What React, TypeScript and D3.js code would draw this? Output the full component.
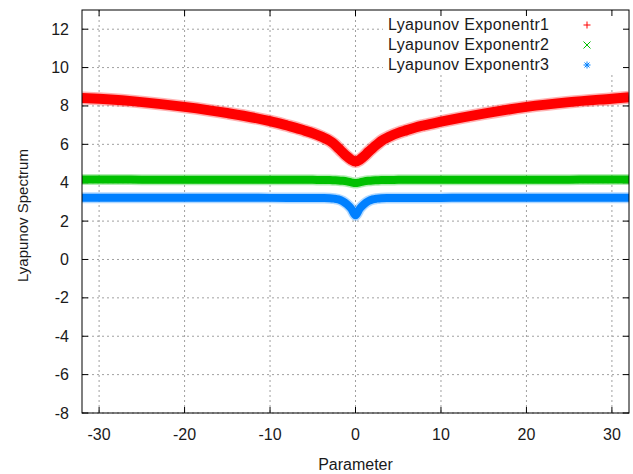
import React from 'react'
import * as d3 from 'd3'

const params = [-32, -30, -25, -20, -15, -10, -8, -7, -6, -5, -4, -3, -2.5, -2, -1.5, -1, -0.5, 0, 0.5, 1, 1.5, 2, 2.5, 3, 4, 5, 6, 7, 8, 10, 15, 20, 25, 30, 32]
const exponent1 = [8.42, 8.37, 8.2, 7.95, 7.63, 7.21, 6.98, 6.86, 6.72, 6.58, 6.4, 6.18, 6.02, 5.8, 5.58, 5.37, 5.2, 5.1, 5.2, 5.38, 5.6, 5.8, 5.99, 6.17, 6.41, 6.6, 6.74, 6.88, 6.99, 7.18, 7.6, 7.95, 8.2, 8.38, 8.45]
const exponent2 = [4.17, 4.17, 4.16, 4.16, 4.16, 4.15, 4.15, 4.15, 4.15, 4.15, 4.14, 4.14, 4.13, 4.12, 4.1, 4.07, 4.02, 3.98, 4.02, 4.07, 4.1, 4.12, 4.13, 4.14, 4.14, 4.15, 4.15, 4.15, 4.15, 4.15, 4.16, 4.16, 4.16, 4.17, 4.17]
const exponent3 = [3.22, 3.22, 3.22, 3.22, 3.22, 3.21, 3.21, 3.21, 3.21, 3.21, 3.2, 3.19, 3.17, 3.13, 3.04, 2.88, 2.65, 2.3, 2.65, 2.88, 3.04, 3.13, 3.17, 3.19, 3.2, 3.21, 3.21, 3.21, 3.21, 3.21, 3.22, 3.22, 3.22, 3.22, 3.22]

const seriesNames = ['Lyapunov Exponentr1', 'Lyapunov Exponentr2', 'Lyapunov Exponentr3']
const seriesColors = ['#ff0000', '#00c000', '#0080ff']
const xTicks = [-30, -20, -10, 0, 10, 20, 30]
const yTicks = [-8, -6, -4, -2, 0, 2, 4, 6, 8, 10, 12]

const width = 633
const height = 474
const left = 82
const right = 629
const top = 10
const bottom = 413
const font = '"Liberation Sans", Arial, sans-serif'

export default function App() {
  const x = d3.scaleLinear().domain([-32, 32]).range([left, right])
  const y = d3.scaleLinear().domain([-8, 13]).range([bottom, top])

  const series = [exponent1, exponent2, exponent3]
  const widths = [10, 8, 8]
  const line = d3.line<[number, number]>()
    .x(d => x(d[0]))
    .y(d => y(d[1]))
    .curve(d3.curveMonotoneX)

  const marker = (i: number, cx: number, cy: number) => {
    const s = 3.5
    const c = seriesColors[i]
    if (i === 0) return <path d={`M${cx - s},${cy}H${cx + s}M${cx},${cy - s}V${cy + s}`} stroke={c} />
    if (i === 1) return <path d={`M${cx - s},${cy - s}L${cx + s},${cy + s}M${cx - s},${cy + s}L${cx + s},${cy - s}`} stroke={c} />
    return <path d={`M${cx - s},${cy}H${cx + s}M${cx},${cy - s}V${cy + s}M${cx - 2.5},${cy - 2.5}L${cx + 2.5},${cy + 2.5}M${cx - 2.5},${cy + 2.5}L${cx + 2.5},${cy - 2.5}`} stroke={c} />
  }

  return <svg width={width} height={height} style={{position: 'absolute', left: 0, top: 0, background: 'white'}} fontFamily={font}>
    <defs>
      <clipPath id="plot"><rect x={left} y={top} width={right - left} height={bottom - top} /></clipPath>
    </defs>
    {/* grid */}
    <g stroke="#a0a0a0" strokeDasharray="2,3" strokeWidth={1}>
      {xTicks.map(t => <line key={'gx' + t} x1={x(t)} x2={x(t)} y1={top} y2={bottom} />)}
      {yTicks.map(t => <line key={'gy' + t} x1={left} x2={right} y1={y(t)} y2={y(t)} />)}
    </g>
    {/* legend box hides the grid */}
    <rect x={383} y={top + 1} width={right - 384} height={63} fill="white" />
    {/* ticks, inward on all sides */}
    <g stroke="black" strokeWidth={1}>
      {xTicks.map(t => <g key={'tx' + t}>
        <line x1={x(t)} x2={x(t)} y1={bottom} y2={bottom - 6} />
        <line x1={x(t)} x2={x(t)} y1={top} y2={top + 6} />
      </g>)}
      {yTicks.map(t => <g key={'ty' + t}>
        <line x1={left} x2={left + 6} y1={y(t)} y2={y(t)} />
        <line x1={right} x2={right - 6} y1={y(t)} y2={y(t)} />
      </g>)}
    </g>
    {/* data bands */}
    <g clipPath="url(#plot)" fill="none">
      {series.map((vals, i) => {
        const pts = params.map((p, j) => [p, vals[j]] as [number, number])
        return <g key={i}>
          <path d={line(pts) || ''} stroke={seriesColors[i]} strokeOpacity={0.3} strokeWidth={widths[i] + 3} />
          <path d={line(pts) || ''} stroke={seriesColors[i]} strokeWidth={widths[i]} />
        </g>
      })}
    </g>
    {/* frame */}
    <rect x={left} y={top} width={right - left} height={bottom - top} fill="none" stroke="black" strokeWidth={1} />
    {/* tick labels */}
    <g fontSize={16} fill="#1a1a1a">
      {xTicks.map(t => <text key={'lx' + t} x={x(t)} y={440} textAnchor="middle">{t}</text>)}
      {yTicks.map(t => <text key={'ly' + t} x={69} y={y(t) + 5.5} textAnchor="end">{t}</text>)}
    </g>
    <text x={x(0)} y={470} textAnchor="middle" fontSize={16} fill="#1a1a1a">Parameter</text>
    <text transform={`translate(28,${(top + bottom) / 2 + 4}) rotate(-90)`} textAnchor="middle" fontSize={15} fill="#1a1a1a">Lyapunov Spectrum</text>
    {/* legend */}
    <g fontSize={16} fill="#1a1a1a">
      {seriesNames.map((n, i) => <g key={n}>
        <text x={388} y={30 + i * 20} textLength={161} lengthAdjust="spacing">{n}</text>
        {marker(i, 587, 25 + i * 20)}
      </g>)}
    </g>
  </svg>
}
